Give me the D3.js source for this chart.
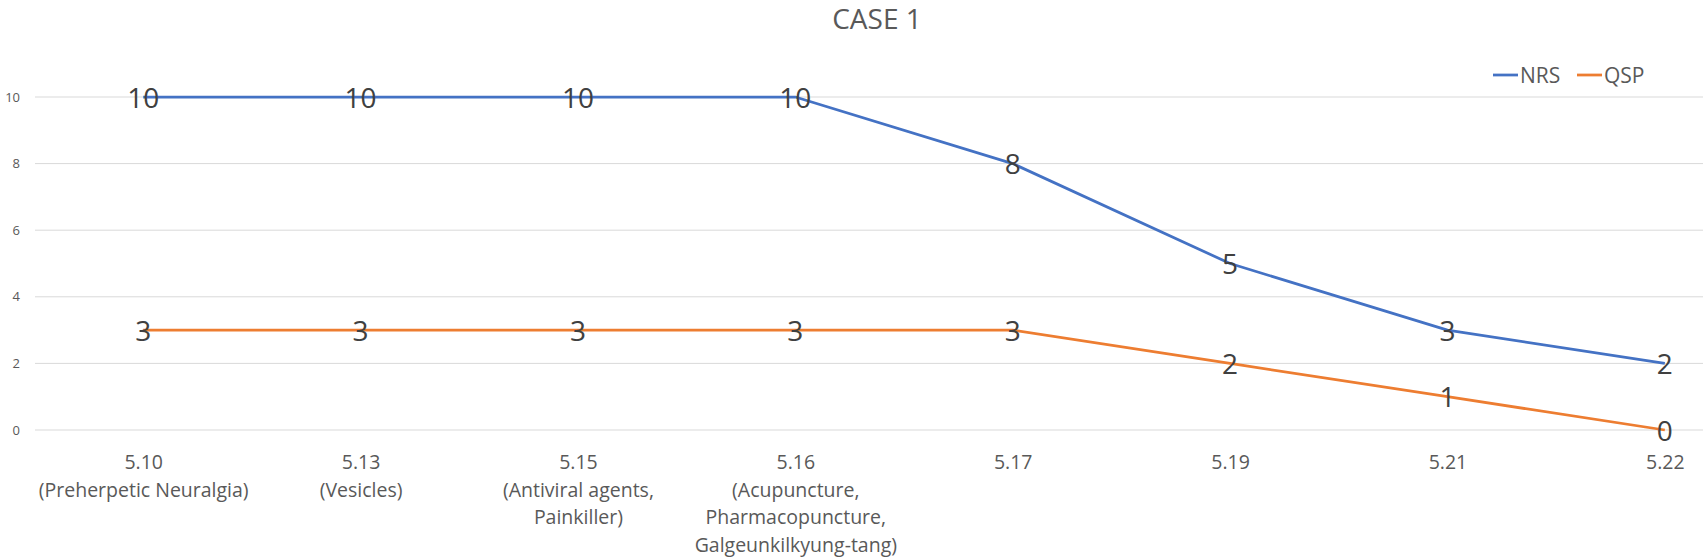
<!DOCTYPE html>
<html><head><meta charset="utf-8">
<script src="https://cdn.jsdelivr.net/npm/d3@7"></script>
<style>body{margin:0;background:#fff;overflow:hidden;}svg{display:block;font-family:"Open Sans",sans-serif;}</style>
</head><body><svg id="c" width="1703" height="559"></svg>
<script>
const categories = ["5.10","5.13","5.15","5.16","5.17","5.19","5.21","5.22"];
const subLabels = [["(Preherpetic Neuralgia)"],["(Vesicles)"],["(Antiviral agents,","Painkiller)"],["(Acupuncture,","Pharmacopuncture,","Galgeunkilkyung-tang)"],[],[],[],[]];
const nrs = [10,10,10,10,8,5,3,2];
const qsp = [3,3,3,3,3,2,1,0];
const yTicks = [0,2,4,6,8,10];
const seriesNames = ["NRS","QSP"];
const colors = ["#4472C4","#ED7D31"];

const svg = d3.select("#c");
const x = d3.scalePoint().domain(categories).range([34.5,1773.5]).padding(0.5);
const y = d3.scaleLinear().domain([0,10]).range([430,97]);

// gridlines
svg.append("g").selectAll("line").data(yTicks).join("line")
  .attr("x1",35).attr("x2",1703).attr("y1",d=>y(d)).attr("y2",d=>y(d))
  .attr("stroke","#d9d9d9").attr("stroke-width",1);

// y axis labels
const yAxis = d3.axisLeft(y).tickValues(yTicks).tickSize(0).tickPadding(0);
const ya = svg.append("g").attr("transform","translate(20,0)").call(yAxis);
ya.select(".domain").remove();
ya.selectAll("text").attr("fill","#595959").style("font-size","13px").style("font-family","Open Sans");

// x axis labels
const xAxis = d3.axisBottom(x).tickSize(0).tickPadding(0);
const xa = svg.append("g").attr("transform","translate(0,469)").call(xAxis);
xa.select(".domain").remove();
xa.selectAll("text").remove();
xa.selectAll(".tick").each(function(d,i){
  const t = d3.select(this).append("text").attr("text-anchor","middle").attr("fill","#595959")
    .style("font-size","19.5px").style("font-family","Open Sans");
  [d].concat(subLabels[i]).forEach((s,j)=>{
    t.append("tspan").attr("x",0).attr("y",j*27.5).text(s);
  });
});

// lines
const line = d3.line().x((d,i)=>x(categories[i])).y(d=>y(d)).curve(d3.curveLinear);
[nrs,qsp].forEach((s,k)=>{
  svg.append("path").datum(s).attr("d",line).attr("fill","none")
    .attr("stroke",colors[k]).attr("stroke-width",2.75).attr("stroke-linejoin","round");
});
// data labels
[nrs,qsp].forEach((s,k)=>{
  svg.append("g").selectAll("text").data(s).join("text")
    .attr("x",(d,i)=>x(categories[i])).attr("y",d=>y(d)+10.5)
    .attr("text-anchor","middle").attr("fill","#404040")
    .style("font-size","28px").style("font-family","Open Sans").text(d=>d);
});

// title
svg.append("text").attr("x",877).attr("y",29).attr("text-anchor","middle")
  .attr("fill","#595959").style("font-size","28px").text("CASE 1");

// legend
const lg = svg.append("g");
const legX = [1493,1577];
seriesNames.forEach((n,k)=>{
  lg.append("line").attr("x1",legX[k]).attr("x2",legX[k]+25).attr("y1",75).attr("y2",75)
    .attr("stroke",colors[k]).attr("stroke-width",2.75);
  lg.append("text").attr("x",legX[k]+27).attr("y",83).attr("fill","#595959")
    .style("font-size","21px").text(n);
});
</script></body></html>
